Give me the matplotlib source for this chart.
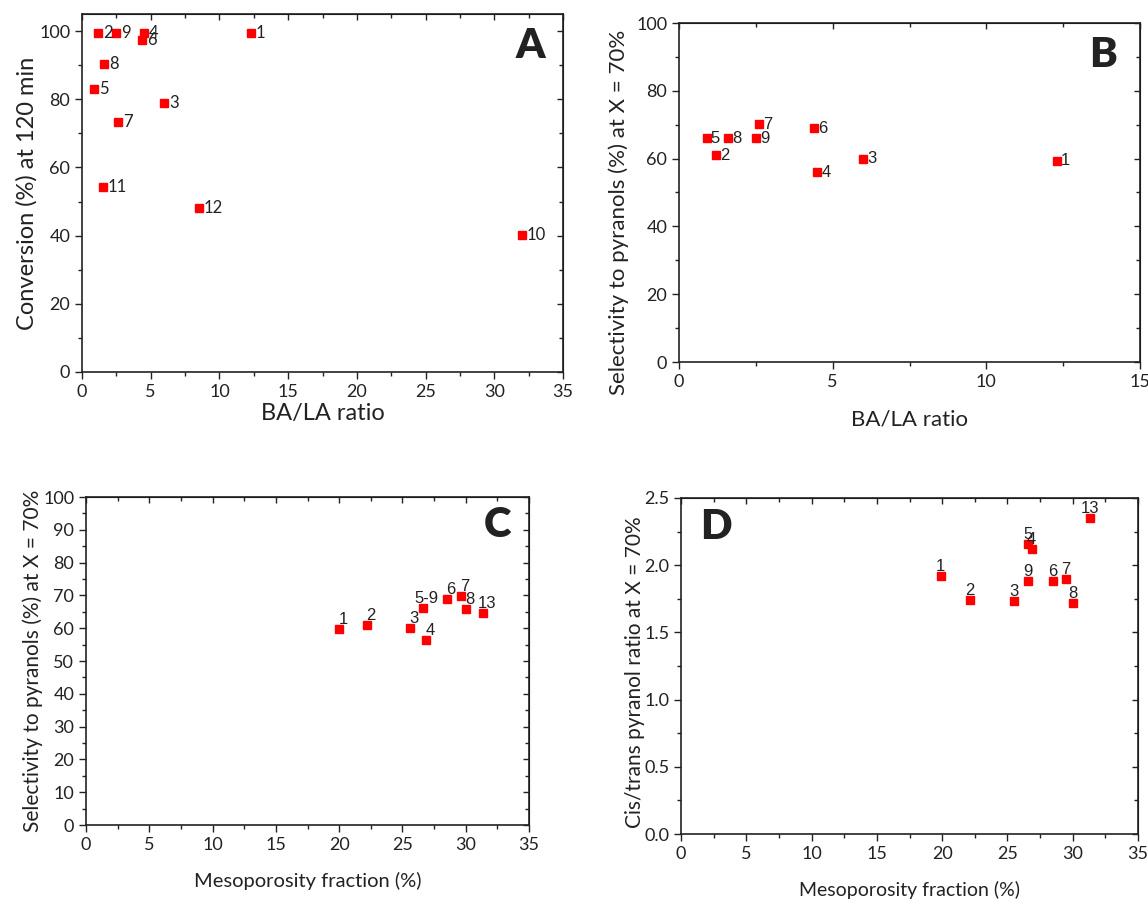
import matplotlib
matplotlib.use("Agg")
import matplotlib.pyplot as plt
from matplotlib.ticker import MultipleLocator, NullFormatter

# Panel A: conversion vs BA/LA ratio
a_labels = ["1", "2", "3", "4", "5", "6", "7", "8", "9", "10", "11", "12"]
a_ratio = [12.3, 1.2, 6.0, 4.5, 0.9, 4.4, 2.6, 1.6, 2.5, 32.0, 1.5, 8.5]
a_conv = [99.3, 99.3, 78.8, 99.3, 82.9, 97.5, 73.4, 90.3, 99.3, 40.3, 54.3, 48.2]

# Panel B: selectivity vs BA/LA ratio
b_labels = ["1", "2", "3", "4", "5", "6", "7", "8", "9"]
b_ratio = [12.3, 1.2, 6.0, 4.5, 0.9, 4.4, 2.6, 1.6, 2.5]
b_sel = [59.3, 61.0, 60.0, 56.0, 66.0, 69.0, 70.1, 66.0, 66.0]

# Panel C: selectivity vs mesoporosity
c_labels = ["1", "2", "3", "4", "5-9", "6", "7", "8", "13"]
c_meso = [20.0, 22.2, 25.6, 26.9, 26.6, 28.5, 29.6, 30.0, 31.4]
c_sel = [59.7, 60.9, 60.0, 56.3, 66.2, 68.8, 69.7, 65.9, 64.5]

# Panel D: cis/trans ratio vs mesoporosity
d_labels = ["1", "2", "3", "9", "5", "4", "6", "7", "8", "13"]
d_meso = [19.9, 22.1, 25.5, 26.6, 26.6, 26.85, 28.5, 29.5, 30.0, 31.3]
d_ratio = [1.92, 1.74, 1.73, 1.88, 2.16, 2.12, 1.88, 1.90, 1.72, 2.35]

W, H = 1148, 905
main_font = "Lato"
pt_font = "Liberation Sans"
ink = "#222222"

fig = plt.figure(figsize=(W / 100, H / 100), dpi=100)


def make_ax(l, r, t, b, xmaj, xmin, ymaj, ymin):
    ax = fig.add_axes([l / W, (H - b) / H, (r - l) / W, (b - t) / H])
    ax.tick_params(which="both", direction="out", labelsize=13, width=1, colors=ink)
    ax.tick_params(which="major", length=5)
    ax.tick_params(which="minor", length=3)
    ax.xaxis.set_major_locator(MultipleLocator(xmaj))
    ax.xaxis.set_minor_locator(MultipleLocator(xmin))
    ax.yaxis.set_major_locator(MultipleLocator(ymaj))
    ax.yaxis.set_minor_locator(MultipleLocator(ymin))
    # mirrored ticks pointing inward on top and right
    top = ax.secondary_xaxis("top")
    top.xaxis.set_major_locator(MultipleLocator(xmaj))
    top.xaxis.set_minor_locator(MultipleLocator(xmin))
    top.xaxis.set_major_formatter(NullFormatter())
    top.tick_params(which="both", direction="in", width=1, colors=ink)
    top.tick_params(which="major", length=4)
    top.tick_params(which="minor", length=3)
    right = ax.secondary_yaxis("right")
    right.yaxis.set_major_locator(MultipleLocator(ymaj))
    right.yaxis.set_minor_locator(MultipleLocator(ymin))
    right.yaxis.set_major_formatter(NullFormatter())
    right.tick_params(which="both", direction="in", width=1, colors=ink)
    right.tick_params(which="major", length=4)
    right.tick_params(which="minor", length=3)
    for s in ax.spines.values():
        s.set_linewidth(1.2)
        s.set_color(ink)
    return ax


def style_ticks(ax):
    for lab in ax.get_xticklabels() + ax.get_yticklabels():
        lab.set_family(main_font)
        lab.set_color(ink)


def letter(ax, txt, x, y):
    ax.text(x, y, txt, transform=ax.transAxes, ha="center", va="center",
            fontsize=30, fontweight="heavy", family=main_font, color=ink)


mk = dict(marker="s", color="red", ms=6, ls="none", mec="red")

# ---- A ----
ax = make_ax(82, 563, 14, 372, 5, 2.5, 20, 10)
ax.plot(a_ratio, a_conv, **mk)
for lab, x, y in zip(a_labels, a_ratio, a_conv):
    ax.annotate(lab, (x, y), xytext=(5, 0), textcoords="offset pixels",
                ha="left", va="center", fontsize=12, family=main_font, color=ink)
ax.set_xlim(0, 35)
ax.set_ylim(0, 105)
ax.set_xlabel("BA/LA ratio", fontsize=17, family=main_font, color=ink, labelpad=2)
ax.set_ylabel("Conversion (%) at 120 min", fontsize=17, family=main_font, color=ink, labelpad=1)
style_ticks(ax)
letter(ax, "A", 0.933, 0.911)

# ---- B ----
ax = make_ax(679, 1140, 23, 362, 5, 2.5, 20, 10)
ax.plot(b_ratio, b_sel, **mk)
for lab, x, y in zip(b_labels, b_ratio, b_sel):
    ax.annotate(lab, (x, y), xytext=(4, 0), textcoords="offset pixels",
                ha="left", va="center", fontsize=12, family=pt_font, color=ink)
ax.set_xlim(0, 15)
ax.set_ylim(0, 100)
ax.set_xlabel("BA/LA ratio", fontsize=16, family=main_font, color=ink, labelpad=14)
ax.set_ylabel("Selectivity to pyranols (%) at X = 70%", fontsize=16, family=main_font,
              color=ink, labelpad=5)
ax.yaxis.label.set_y(0.44)
style_ticks(ax)
letter(ax, "B", 0.92, 0.906)

# ---- C ----
ax = make_ax(86, 529, 497, 825, 5, 2.5, 10, 5)
ax.plot(c_meso, c_sel, **mk)
for lab, x, y in zip(c_labels, c_meso, c_sel):
    ax.annotate(lab, (x, y), xytext=(4, 2), textcoords="offset pixels",
                ha="center", va="bottom", fontsize=12, family=pt_font, color=ink)
ax.set_xlim(0, 35)
ax.set_ylim(0, 100)
ax.set_xlabel("Mesoporosity fraction (%)", fontsize=14.5, family=main_font, color=ink, labelpad=14)
ax.set_ylabel("Selectivity to pyranols (%) at X = 70%", fontsize=15, family=main_font,
              color=ink, labelpad=0)
style_ticks(ax)
letter(ax, "C", 0.928, 0.915)

# ---- D ----
ax = make_ax(681, 1138, 498, 834, 5, 2.5, 0.5, 0.25)
ax.plot(d_meso, d_ratio, **mk)
for lab, x, y in zip(d_labels, d_meso, d_ratio):
    ax.annotate(lab, (x, y), xytext=(0, 2), textcoords="offset pixels",
                ha="center", va="bottom", fontsize=12, family=pt_font, color=ink)
ax.set_xlim(0, 35)
ax.set_ylim(0, 2.5)
ax.set_xlabel("Mesoporosity fraction (%)", fontsize=14, family=main_font, color=ink, labelpad=14)
ax.set_ylabel("Cis/trans pyranol ratio at X = 70%", fontsize=15, family=main_font,
              color=ink, labelpad=-1)
ax.yaxis.label.set_y(0.482)
style_ticks(ax)
letter(ax, "D", 0.077, 0.914)

fig.savefig("out.png", dpi=100)
